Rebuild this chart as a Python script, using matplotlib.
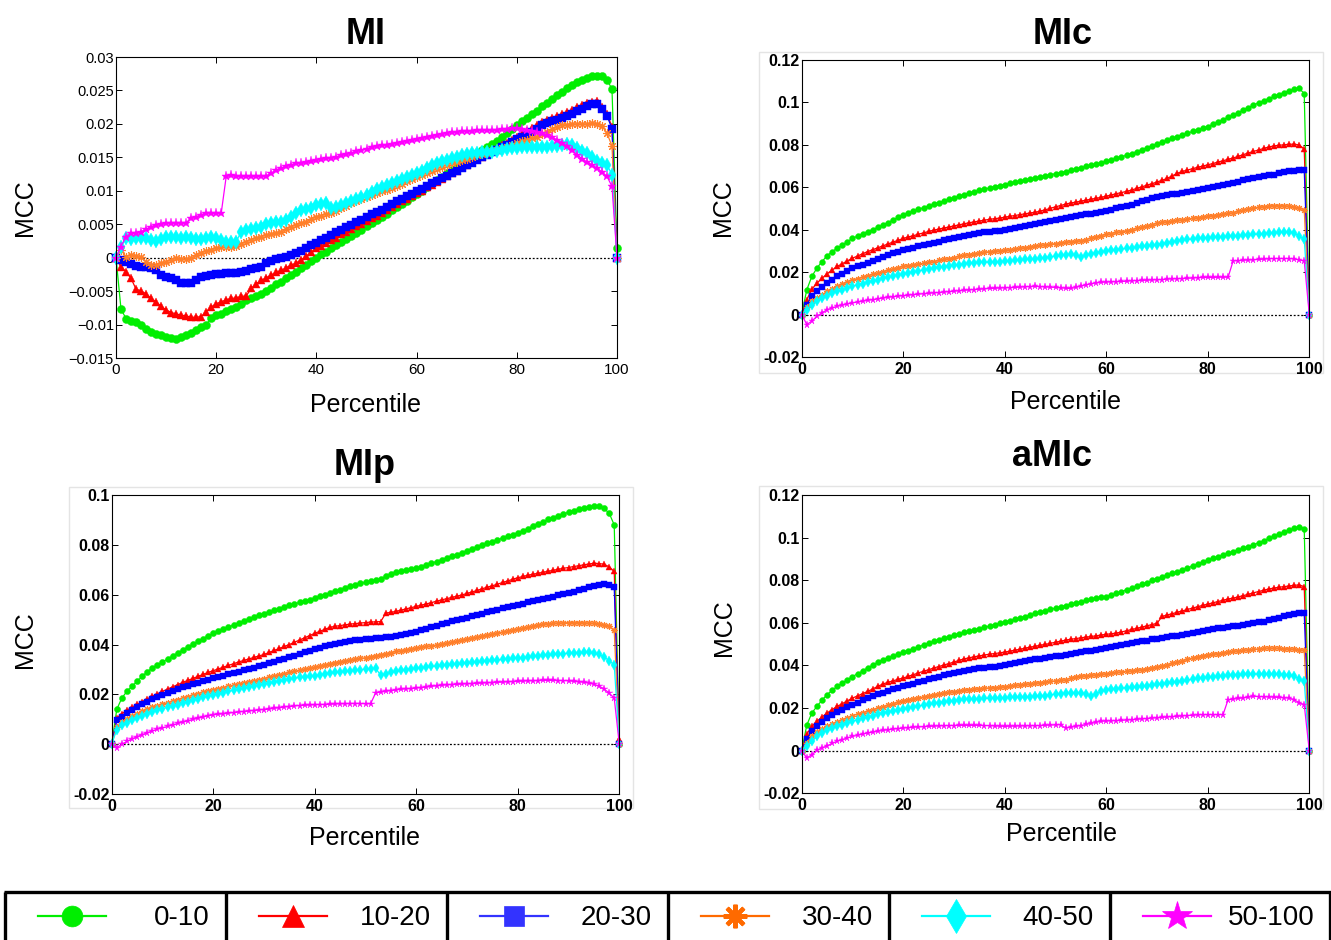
import numpy as np
import matplotlib
matplotlib.use("Agg")
import matplotlib.pyplot as plt
from matplotlib.patches import Rectangle

plt.rcParams['font.family'] = ['Liberation Sans', 'DejaVu Sans']

percentile = np.arange(0, 101)
groups = ['0-10', '10-20', '20-30', '30-40', '40-50', '50-100']

# ---------------- MI (values in units of 1e-4) ----------------
mi_0_10 = [0, -77, -91, -94, -96, -101, -106, -111, -114, -116,
           -119, -120, -121, -119, -116, -113, -108, -104, -101, -90,
           -86, -84, -80, -77, -74, -70, -64, -61, -57, -54,
           -50, -45, -40, -36, -31, -26, -21, -16, -11, -5,
           0, 5, 9, 14, 19, 23, 28, 32, 37, 42,
           47, 52, 57, 61, 66, 71, 76, 80, 85, 90,
           95, 100, 105, 111, 116, 121, 126, 131, 136, 141,
           146, 151, 156, 161, 165, 170, 175, 181, 186, 192,
           198, 204, 209, 215, 220, 226, 231, 237, 243, 248,
           253, 258, 262, 265, 268, 271, 272, 271, 266, 252,
           15]
mi_10_20 = [0, -14, -21, -31, -47, -50, -54, -61, -66, -73,
            -78, -82, -84, -86, -87, -89, -89, -88, -81, -74,
            -69, -66, -63, -61, -60, -58, -57, -46, -39, -34,
            -30, -26, -22, -19, -15, -11, -8, -3, 2, 8,
            14, 18, 22, 26, 30, 35, 39, 43, 47, 51,
            55, 59, 63, 67, 71, 76, 80, 84, 88, 92,
            96, 100, 105, 109, 113, 118, 122, 126, 130, 135,
            139, 143, 147, 151, 155, 160, 164, 168, 172, 176,
            180, 185, 190, 194, 199, 203, 206, 209, 212, 215,
            218, 221, 225, 228, 231, 233, 234, 225, 215, 196,
            0]
mi_20_30 = [0, -3.5, -6, -9.5, -12.5, -13.5, -13.5, -15, -18.5, -26,
            -29.5, -31, -33.5, -37.5, -38.5, -37.5, -33.5, -29.5, -27.5, -26,
            -24.5, -24.5, -23.5, -23.5, -22.5, -21, -19.5, -17.5, -15, -13.5,
            -8.5, -5, -2.5, -1, 0.5, 4, 6.5, 10.5, 14, 19,
            22.5, 26, 30, 34, 38, 42, 45.5, 49, 53, 57,
            61, 65, 68.5, 72, 76, 80, 84, 88, 91.5, 95,
            99, 103, 107, 111, 114.5, 118.5, 122.5, 126, 130, 134,
            138, 142, 146, 150, 153.5, 157.5, 161, 165, 169, 173,
            177, 180, 183, 188, 193, 198, 201, 204, 206, 209,
            212, 215, 219, 222, 226, 229, 229, 222, 212, 193,
            0]
mi_30_40 = [0, 11.5, 1.5, 4, 2.5, 0.5, -6, -11, -11, -8.5,
            -6, -3.5, -1, -2, -2, -1, 4, 6.5, 10.5, 11.5,
            14, 15.5, 16.5, 16.5, 17.5, 20.5, 24, 26.5, 29, 31.5,
            34, 35.5, 37.5, 39, 42.5, 46.5, 49, 51.5, 54, 57.5,
            61.5, 63, 65, 67, 70, 74, 77, 81, 84, 88,
            91, 93, 96, 99, 101, 104, 107, 110, 114, 118,
            121, 124, 127, 130, 133, 136, 139, 141, 143, 146,
            148, 150, 153, 155, 157, 159, 161, 164, 166, 169,
            171, 174, 176, 179, 181, 185, 188, 192, 195, 198,
            199, 200, 200, 200, 200, 201, 200, 197, 186, 167,
            0]
mi_40_50 = [0, 16.5, 29, 27.5, 29, 30, 29, 26.5, 25.5, 27.5,
            31.5, 31.5, 30.5, 29, 30.5, 29, 27.5, 27.5, 29, 30.5,
            29, 26.5, 24, 24, 24, 39, 41.5, 42.5, 44, 46.5,
            50, 52.5, 54, 54, 56.5, 61.5, 66.5, 71.5, 72.5, 74,
            78, 80, 82, 74, 76, 79, 82, 85, 88, 91,
            94, 98, 102, 105, 108, 111, 114, 117, 120, 123,
            126.5, 130, 134, 138, 141, 144, 146.5, 149, 151, 154,
            155, 156, 157, 157.5, 158, 158.5, 159, 160.5, 162, 163.5,
            164, 165, 165.5, 165.5, 165.5, 165.5, 165.5, 166.5, 167.5, 169,
            170.5, 168, 164, 160, 156, 151, 145, 141, 139, 124,
            0]
mi_50_100 = [0, 16.5, 31.5, 36.5, 37.5, 39, 42.5, 46.5, 49, 50.5,
             51.5, 52.5, 52.5, 52.5, 52.5, 59, 61.5, 64, 67.5, 67.5,
             66.5, 66.5, 121.5, 124, 122.5, 121.5, 121.5, 121.5, 121.5, 121.5,
             122.5, 126.5, 131.5, 134, 137.5, 139, 141.5, 141.5, 142.5, 144,
             146.5, 147.5, 148.5, 149.5, 151, 153, 155, 157, 159, 161,
             163, 165, 167, 168, 169, 170.5, 171.5, 173, 174.5, 176,
             177.5, 179, 180.5, 182.5, 184, 185.5, 186.5, 187.5, 188, 189,
             189.5, 190, 190.5, 191, 191, 191.5, 191.5, 192, 193, 193.5,
             194, 192.5, 191, 189.5, 188, 186.5, 183, 180, 176.5, 172,
             167, 161, 154, 148, 143, 139, 134, 128, 121.5, 106.5,
             0]

# ---------------- MIc (values in units of 1e-3) ----------------
mic_0_10 = [0, 11.7, 18, 21.9, 25, 27.7, 29.7, 31.3, 32.8, 34.4,
            35.9, 37, 38.1, 39.1, 40.1, 41.1, 42.2, 43.4, 44.6, 45.8,
            47, 47.9, 48.7, 49.6, 50.4, 51.2, 52, 52.8, 53.5, 54.3,
            55, 55.8, 56.5, 57.2, 57.9, 58.5, 59.1, 59.7, 60.3, 60.8,
            61.3, 61.8, 62.3, 62.8, 63.3, 63.9, 64.4, 64.9, 65.4, 65.9,
            66.4, 66.9, 67.4, 68, 68.6, 69.2, 69.8, 70.4, 71, 71.6,
            72.2, 72.9, 73.6, 74.4, 75.1, 75.9, 76.8, 77.7, 78.6, 79.5,
            80.4, 81.3, 82.1, 83, 83.8, 84.7, 85.5, 86.3, 87.1, 87.9,
            88.6, 89.7, 90.8, 91.9, 93, 94, 95.2, 96.4, 97.6, 98.8,
            99.8, 100.8, 101.8, 102.8, 103.7, 104.6, 105.5, 106.2, 106.6, 104.2,
            0]
mic_10_20 = [0, 7, 12, 14.8, 17.1, 19.2, 21, 22.7, 24, 25.3,
             26.6, 27.6, 28.7, 29.7, 30.6, 31.5, 32.4, 33.3, 34.2, 35,
             35.9, 36.6, 37.2, 37.9, 38.5, 39.2, 39.8, 40.3, 40.8, 41.3,
             41.8, 42.3, 42.8, 43.3, 43.7, 44.1, 44.5, 44.9, 45.2, 45.5,
             45.9, 46.3, 46.7, 47.1, 47.5, 47.9, 48.2, 48.8, 49.4, 50.1,
             50.8, 51.4, 52.1, 52.6, 53, 53.5, 53.9, 54.4, 54.8, 55.3,
             55.8, 56.4, 57, 57.5, 58.1, 58.7, 59.5, 60.2, 61, 61.7,
             62.5, 63.3, 64.2, 65.4, 66.6, 67.5, 68.1, 68.8, 69.4, 70,
             70.6, 71.2, 71.9, 72.5, 73.2, 73.8, 74.6, 75.4, 76.2, 76.9,
             77.6, 78.3, 79, 79.5, 79.8, 80, 80.3, 80.3, 80, 78,
             0]
mic_20_30 = [0, 4.7, 8.6, 10.9, 13, 14.8, 16.5, 18, 19.3, 20.6,
             21.9, 22.7, 23.5, 24.2, 25.2, 26.2, 27.2, 28, 28.8, 29.7,
             30.5, 31.1, 31.6, 32.2, 32.8, 33.3, 33.9, 34.4, 35, 35.5,
             36.1, 36.6, 37.2, 37.6, 38, 38.4, 38.7, 39, 39.2, 39.4,
             39.9, 40.4, 40.9, 41.3, 41.8, 42.3, 42.6, 43.1, 43.6, 44.1,
             44.6, 45.1, 45.5, 46, 46.4, 46.8, 47.2, 47.6, 48, 48.4,
             48.8, 49.4, 50, 50.6, 51.2, 51.8, 52.5, 53.3, 54.1, 54.9,
             55.6, 56, 56.3, 56.6, 56.9, 57.3, 57.8, 58.3, 58.8, 59.2,
             59.7, 60.2, 60.6, 61.1, 61.5, 62, 62.6, 63.2, 63.8, 64.4,
             64.8, 65.2, 65.6, 66, 66.5, 67, 67.5, 67.8, 68.1, 68.3,
             0]
mic_30_40 = [0, 3.6, 6.3, 7.8, 9.4, 10.9, 12.1, 13.3, 14.3, 15.4,
             16.4, 17, 17.7, 18.3, 18.9, 19.5, 20.2, 20.8, 21.4, 22.1,
             22.7, 23.1, 23.5, 23.8, 24.2, 24.6, 25, 25.5, 26, 26.4,
             26.9, 27.4, 27.9, 28.3, 28.7, 29, 29.4, 29.7, 29.9, 30.1,
             30.3, 30.6, 30.9, 31.2, 31.6, 32, 32.3, 32.6, 32.9, 33.2,
             33.5, 33.8, 34.1, 34.4, 34.6, 34.9, 35.2, 36.3, 36.7, 37.2,
             37.8, 38.2, 38.7, 39.1, 39.6, 40, 40.6, 41.2, 41.8, 42.4,
             43, 43.5, 43.8, 44.1, 44.4, 44.7, 45, 45.4, 45.7, 46.1,
             46.4, 46.7, 47, 47.4, 47.7, 48, 48.6, 49.2, 49.8, 50.3,
             50.6, 50.9, 51.2, 51.4, 51.4, 51.3, 51.1, 50.6, 50.1, 49.5,
             0]
mic_40_50 = [0, 2.3, 4.7, 6.3, 7.7, 8.9, 10, 10.9, 11.7, 12.5,
             13.3, 14, 14.6, 15.2, 15.8, 16.4, 17.1, 17.7, 18.2, 18.7,
             19.2, 19.7, 20.1, 20.6, 21, 21.5, 21.9, 22.3, 22.6, 23,
             23.3, 23.6, 24, 24.2, 24.4, 24.6, 24.7, 24.8, 24.9, 25,
             25.2, 25.4, 25.6, 25.8, 26, 26.1, 26.2, 26.5, 26.9, 27.2,
             27.6, 27.9, 28.3, 28.4, 28.2, 27.3, 28, 28.6, 29.1, 29.6,
             30, 30.3, 30.6, 30.9, 31.2, 31.5, 31.8, 32.1, 32.4, 32.7,
             33, 33.4, 33.9, 34.3, 34.8, 35.2, 35.4, 35.6, 35.9, 36.1,
             36.3, 36.4, 36.6, 36.7, 36.9, 37, 37.2, 37.4, 37.6, 37.8,
             38, 38.2, 38.4, 38.6, 38.7, 38.8, 38.9, 38.5, 37, 35.5,
             0]
mic_50_100 = [0, -4.7, -3.1, -0.8, 0.8, 2.3, 3.1, 3.9, 4.4, 5,
              5.5, 5.9, 6.3, 6.7, 7, 7.4, 7.8, 8.1, 8.4, 8.7,
              8.9, 9.1, 9.4, 9.6, 9.8, 10, 10.2, 10.4, 10.6, 10.8,
              11, 11.2, 11.4, 11.6, 11.8, 11.9, 12.1, 12.3, 12.4, 12.5,
              12.6, 12.7, 12.8, 12.9, 13.1, 13.2, 13.3, 13.2, 13, 12.9,
              12.8, 12.6, 12.4, 12.3, 12.8, 13.4, 14, 14.5, 14.9, 15.2,
              15.3, 15.4, 15.5, 15.6, 15.7, 15.9, 16, 16.1, 16.2, 16.3,
              16.4, 16.5, 16.7, 16.8, 16.9, 17, 17.1, 17.2, 17.4, 17.5,
              17.5, 17.5, 17.6, 17.6, 17.6, 25.3, 25.4, 25.6, 25.7, 25.8,
              26, 26.1, 26.3, 26.4, 26.4, 26.4, 26.4, 26.2, 25.8, 25.3,
              0]

# ---------------- MIp (values in units of 1e-3) ----------------
mip_0_10 = [0, 14, 18.5, 21.2, 23.2, 25.2, 27.2, 29, 30.6, 31.9,
            33, 34.2, 35.4, 36.6, 37.8, 39, 40.2, 41.3, 42.4, 43.5,
            44.5, 45.3, 46.1, 47, 47.8, 48.6, 49.4, 50.2, 50.9, 51.7,
            52.4, 53.1, 53.7, 54.4, 55.1, 55.7, 56.3, 56.9, 57.5, 58,
            58.6, 59.3, 60, 60.7, 61.3, 62, 62.7, 63.3, 64, 64.5,
            65, 65.5, 65.8, 66.3, 67.5, 68.2, 68.9, 69.4, 69.8, 70.2,
            70.6, 71.2, 71.9, 72.6, 73.3, 74, 74.7, 75.4, 76.1, 76.8,
            77.5, 78.2, 79, 79.8, 80.6, 81.3, 82, 82.7, 83.4, 84.1,
            84.7, 85.6, 86.5, 87.5, 88.4, 89.3, 90.2, 90.9, 91.7, 92.4,
            93.1, 93.7, 94.3, 94.9, 95.3, 95.4, 95.4, 94.6, 92.7, 88,
            0]
mip_10_20 = [0, 10.5, 12.3, 13.6, 14.9, 16, 17.1, 18.2, 19.2, 20.2,
             21.2, 22.1, 23, 23.9, 24.8, 25.6, 26.4, 27.2, 28, 28.8,
             29.5, 30.2, 30.9, 31.6, 32.3, 33, 33.6, 34.2, 34.8, 35.4,
             36, 36.8, 37.6, 38.4, 39.2, 40, 40.9, 41.8, 42.7, 43.6,
             44.5, 45.3, 46.1, 46.9, 47.3, 47.6, 47.9, 48.2, 48.4, 48.6,
             48.8, 49, 49.1, 49.2, 52.6, 52.9, 53.3, 53.8, 54.3, 54.8,
             55.3, 55.8, 56.3, 56.8, 57.4, 57.9, 58.4, 58.9, 59.4, 59.9,
             60.5, 61.1, 61.7, 62.4, 63, 63.6, 64.2, 64.9, 65.5, 66.2,
             66.8, 67.3, 67.8, 68.2, 68.6, 69, 69.4, 69.8, 70.2, 70.6,
             70.9, 71.3, 71.6, 72, 72.3, 72.6, 72.5, 72.2, 71.2, 69.3,
             2]
mip_20_30 = [0, 9.5, 11.1, 12.4, 13.6, 14.8, 16, 17.1, 18.1, 19.1,
             19.9, 20.7, 21.5, 22.2, 22.8, 23.5, 24.1, 24.7, 25.3, 25.9,
             26.5, 27, 27.5, 28, 28.6, 29.1, 29.7, 30.2, 30.7, 31.2,
             31.8, 32.4, 33, 33.6, 34.2, 34.8, 35.4, 36.1, 36.8, 37.5,
             38.1, 38.7, 39.3, 39.9, 40.4, 40.8, 41.2, 41.5, 41.8, 42,
             42.2, 42.3, 42.5, 42.7, 42.9, 43.1, 43.4, 43.8, 44.3, 44.7,
             45.2, 45.8, 46.4, 47, 47.6, 48.3, 48.8, 49.3, 49.8, 50.3,
             50.8, 51.3, 51.8, 52.3, 52.9, 53.5, 54, 54.5, 55, 55.5,
             55.9, 56.4, 56.9, 57.4, 57.9, 58.4, 58.8, 59.2, 59.7, 60.1,
             60.6, 61.2, 61.8, 62.4, 63, 63.5, 64, 64.4, 64, 63,
             0]
mip_30_40 = [0, 7, 8.9, 10.1, 11.3, 12.3, 13.2, 14, 14.8, 15.5,
             16.1, 16.7, 17.3, 17.9, 18.5, 19.1, 19.7, 20.3, 20.9, 21.4,
             21.8, 22.3, 22.7, 23.2, 23.6, 24.1, 24.5, 25, 25.4, 25.8,
             26.3, 26.8, 27.3, 27.8, 28.3, 28.8, 29.2, 29.6, 30, 30.4,
             30.8, 31.3, 31.8, 32.3, 32.7, 33.1, 33.4, 33.8, 34.1, 34.4,
             34.7, 35.1, 35.5, 35.9, 36.3, 36.7, 37.2, 37.5, 37.9, 38.2,
             38.5, 38.8, 39.2, 39.5, 39.8, 40.2, 40.5, 40.9, 41.3, 41.8,
             42.2, 42.6, 43, 43.4, 43.8, 44.2, 44.6, 45, 45.4, 45.8,
             46.1, 46.5, 46.9, 47.4, 47.8, 48.2, 48.4, 48.5, 48.6, 48.7,
             48.8, 48.8, 48.8, 48.7, 48.6, 48.5, 48.3, 48, 47.3, 45.7,
             0]
mip_40_50 = [0, 5.8, 7.5, 8.6, 9.6, 10.4, 11.4, 12.3, 13, 13.6,
             14.2, 14.8, 15.4, 15.9, 16.5, 17.1, 17.7, 18.3, 18.8, 19.3,
             19.8, 20.3, 20.7, 21.2, 21.6, 22, 22.4, 22.9, 23.3, 23.7,
             24.1, 24.5, 24.9, 25.3, 25.7, 26.1, 26.5, 26.8, 27, 27.2,
             27.4, 27.8, 28.2, 28.6, 28.8, 29, 29.2, 29.4, 29.6, 29.9,
             30.1, 30.3, 30.5, 27.6, 28.3, 28.8, 29.2, 29.6, 29.9, 30.2,
             30.5, 30.7, 30.9, 31.2, 31.4, 31.6, 31.8, 32, 32.2, 32.4,
             32.6, 32.8, 33, 33.2, 33.4, 33.6, 33.8, 34, 34.2, 34.4,
             34.5, 34.7, 35, 35.2, 35.5, 35.7, 35.9, 36, 36.2, 36.3,
             36.5, 36.6, 36.7, 36.8, 36.8, 36.5, 36, 35, 33.5, 31.8,
             0]
mip_50_100 = [0, -1.4, 0, 1.1, 2.1, 3, 3.8, 4.6, 5.3, 6,
              6.5, 7.1, 7.7, 8.3, 8.8, 9.4, 9.9, 10.4, 10.9, 11.4,
              11.8, 12, 12.2, 12.4, 12.7, 12.9, 13.1, 13.3, 13.5, 13.7,
              13.9, 14.1, 14.4, 14.6, 14.9, 15.1, 15.3, 15.5, 15.6, 15.7,
              15.8, 15.9, 15.9, 16, 16.1, 16.2, 16.2, 16.3, 16.3, 16.3,
              16.2, 16.2, 20.6, 20.9, 21.2, 21.5, 21.8, 22, 22.2, 22.3,
              22.5, 22.7, 22.9, 23.2, 23.4, 23.6, 23.8, 23.9, 24, 24.1,
              24.2, 24.3, 24.4, 24.5, 24.6, 24.7, 24.8, 24.9, 25, 25.1,
              25.2, 25.3, 25.4, 25.4, 25.5, 25.6, 25.6, 25.6, 25.5, 25.5,
              25.4, 25.2, 25, 24.8, 24.5, 24, 23.3, 22.2, 20.5, 18.5,
              0]

# ---------------- aMIc (values in units of 1e-3) ----------------
amic_0_10 = [0, 12, 17.7, 20.8, 23.7, 26.3, 28.3, 30.2, 31.8, 33.3,
             34.8, 36.1, 37.4, 38.9, 40.2, 41.5, 42.7, 43.5, 44.4, 45.2,
             46.1, 47, 47.8, 48.7, 49.6, 50.4, 51.3, 52, 52.7, 53.4,
             54.1, 54.8, 55.5, 56.1, 56.7, 57.3, 57.9, 58.5, 59.1, 59.7,
             60.4, 61, 61.6, 62.3, 62.9, 63.6, 64.5, 65.1, 65.7, 66.3,
             66.9, 67.5, 68.1, 68.7, 69.3, 69.9, 70.5, 71.1, 71.6, 72,
             72.3, 73, 73.8, 74.7, 75.5, 76.3, 77.1, 78, 78.9, 79.9,
             80.8, 81.6, 82.4, 83.2, 84, 84.8, 85.7, 86.7, 87.6, 88.5,
             89.5, 90.3, 91, 91.8, 92.6, 93.4, 94.2, 95, 95.8, 96.6,
             97.6, 98.6, 99.6, 100.6, 101.5, 102.5, 103.4, 104.3, 105.2, 104.2,
             0]
amic_10_20 = [0, 7.8, 11.4, 13.8, 15.8, 17.7, 19.3, 20.8, 22.1, 23.4,
              24.7, 25.7, 26.8, 27.8, 29, 30.2, 31.3, 32.1, 32.8, 33.5,
              34.1, 34.9, 35.7, 36.5, 37.3, 38, 38.8, 39.5, 40.2, 40.9,
              41.6, 42.4, 43.1, 43.6, 44.1, 44.5, 44.9, 45.3, 45.6, 45.9,
              46.3, 46.7, 47.2, 47.6, 48.1, 48.6, 49, 49.5, 49.9, 50.4,
              50.9, 51.4, 51.9, 52.3, 52.6, 53, 53.3, 53.6, 53.9, 54.3,
              54.6, 54.9, 55.2, 55.7, 56.3, 56.9, 57.4, 58, 58.6, 59.2,
              59.8, 63, 63.7, 64.3, 65, 65.6, 66.3, 66.9, 67.6, 68.2,
              68.8, 69.4, 70, 70.6, 71.2, 71.6, 72.2, 72.8, 73.4, 74.1,
              74.7, 75.3, 75.9, 76.3, 76.7, 77, 77.3, 77.6, 77.8, 77,
              0]
amic_20_30 = [0, 5.5, 9.1, 11.4, 13.5, 15.3, 16.7, 18, 19.2, 20.4,
              21.6, 22.6, 23.6, 24.7, 25.5, 26.4, 27.3, 28, 28.8, 29.5,
              30.2, 30.9, 31.5, 32.2, 32.8, 33.5, 34.1, 34.7, 35.3, 35.8,
              36.4, 37, 37.6, 38, 38.3, 38.6, 38.9, 39.2, 39.4, 39.6,
              40, 40.5, 41, 41.5, 42, 42.5, 42.8, 43.2, 43.5, 43.9,
              44.3, 44.6, 45, 45.4, 45.8, 46.2, 46.6, 47, 47.4, 47.8,
              48.1, 48.6, 49, 49.5, 49.9, 50.4, 50.8, 51.3, 51.7, 52.2,
              52.6, 52.9, 53.3, 53.7, 54, 54.4, 54.9, 55.4, 55.9, 56.3,
              56.7, 57.1, 57.4, 57.7, 58, 58.3, 58.7, 59, 59.4, 59.8,
              60.2, 60.6, 61.2, 61.8, 62.4, 63, 63.6, 64.2, 64.8, 64.5,
              0]
amic_30_40 = [0, 3.8, 6.7, 8.6, 10.1, 11.4, 12.6, 13.6, 14.6, 15.5,
              16.4, 17.1, 17.8, 18.5, 19.2, 19.9, 20.6, 21.3, 22, 22.7,
              23.4, 23.9, 24.4, 24.8, 25.3, 25.7, 26.2, 26.6, 27, 27.4,
              27.7, 28.1, 28.5, 28.7, 28.9, 29.1, 29.3, 29.5, 29.6, 29.8,
              30.1, 30.3, 30.6, 30.9, 31.1, 31.4, 31.7, 32, 32.2, 32.5,
              32.8, 33, 33.3, 34, 34.8, 35, 35.2, 35.4, 35.6, 35.9,
              36.1, 36.4, 36.7, 37, 37.3, 37.5, 37.8, 38, 38.5, 38.9,
              39.4, 39.8, 40.3, 41, 41.6, 42.2, 42.9, 43.5, 44.2, 44.6,
              45, 45.3, 45.6, 45.9, 46.3, 46.6, 46.9, 47.1, 47.3, 47.6,
              47.8, 48, 48.1, 48.1, 48, 47.9, 47.8, 47.6, 47.4, 47.2,
              0]
amic_40_50 = [0, 2.2, 4.4, 6.7, 8.2, 9.5, 10.5, 11.4, 12.2, 13,
              13.8, 14.5, 15.2, 15.8, 16.4, 17.1, 17.7, 18.2, 18.6, 19.1,
              19.5, 20, 20.5, 20.9, 21.4, 21.8, 22.3, 22.6, 22.9, 23.2,
              23.5, 23.8, 24.1, 24.2, 24.3, 24.4, 24.5, 24.6, 24.7, 24.8,
              24.9, 25, 25.1, 25.2, 25.3, 25.4, 25.5, 25.7, 25.9, 26.2,
              26.5, 26.8, 27, 27.1, 27.2, 27.3, 26.5, 25.8, 26.8, 27.8,
              28.6, 28.8, 29.1, 29.3, 29.6, 29.8, 30, 30.2, 30.5, 30.8,
              31.1, 31.4, 31.7, 32.1, 32.4, 32.8, 33.2, 33.5, 34, 34.3,
              34.5, 34.7, 34.9, 35.1, 35.3, 35.6, 35.7, 35.8, 35.9, 36,
              36, 36.1, 36, 35.9, 35.8, 35.7, 35.6, 35, 33.8, 32.5,
              0]
amic_50_100 = [0, -3.4, -1.9, 0.2, 1.3, 2.3, 3.4, 4.4, 5.2, 6,
               6.7, 7.2, 7.8, 8.3, 8.7, 9.1, 9.5, 9.8, 10.1, 10.4,
               10.6, 10.8, 11, 11.1, 11.3, 11.4, 11.5, 11.6, 11.7, 11.8,
               11.8, 11.9, 11.9, 11.9, 11.9, 11.9, 11.8, 11.7, 11.6, 11.5,
               11.4, 11.5, 11.5, 11.6, 11.6, 11.7, 11.7, 11.8, 11.9, 12,
               12.1, 12.2, 10.6, 11, 11.4, 11.8, 12.3, 12.8, 13.3, 13.8,
               13.9, 14, 14.1, 14.2, 14.4, 14.5, 14.7, 14.9, 15.1, 15.3,
               15.4, 15.6, 15.8, 16, 16.1, 16.3, 16.5, 16.6, 16.8, 16.9,
               16.9, 16.9, 16.9, 16.9, 23.9, 24.2, 24.5, 24.8, 25.1, 25.5,
               25.4, 25.3, 25.2, 25.1, 25, 24.8, 24.7, 24, 22.5, 21.6,
               0]

# ---------------- styling ----------------
colors = ['#00ee00', '#ff0000', '#0000ff', '#ff7f2a', '#00ffff', '#ff00ff']
legend_colors = ['#00ee00', '#ff0000', '#3333ff', '#ff6a00', '#00ffff', '#ff00ff']
markers = ['o', '^', 's', (8, 2, 0), 'd', '*']

W, H = 1331, 940
fig = plt.figure(figsize=(W / 100, H / 100), dpi=100)
fig.patch.set_facecolor('white')


def fx(x):
    return x / W


def fy(y):
    return 1 - y / H


panels = [
    dict(title='MI', scale=1e-4, series=[mi_0_10, mi_10_20, mi_20_30, mi_30_40, mi_40_50, mi_50_100],
         box=(116, 57, 617, 358), ylim=(-0.015, 0.03), ystep=0.005, bold=False,
         title_xy=(366, 43.5), ylab_xy=(25, 208), xlab_xy=(365, 412), frame=None, ms=5.8),
    dict(title='MIc', scale=1e-3, series=[mic_0_10, mic_10_20, mic_20_30, mic_30_40, mic_40_50, mic_50_100],
         box=(801.7, 60, 1309.3, 357), ylim=(-0.02, 0.12), ystep=0.02, bold=True,
         title_xy=(1063, 44), ylab_xy=(723, 208), xlab_xy=(1065, 409), frame=(759, 52, 1323, 373), ms=4.2),
    dict(title='MIp', scale=1e-3, series=[mip_0_10, mip_10_20, mip_20_30, mip_30_40, mip_40_50, mip_50_100],
         box=(111.7, 495, 619.3, 794), ylim=(-0.02, 0.1), ystep=0.02, bold=True,
         title_xy=(365, 475), ylab_xy=(25, 640), xlab_xy=(364.5, 845), frame=(69, 487, 633, 808), ms=4.4),
    dict(title='aMIc', scale=1e-3, series=[amic_0_10, amic_10_20, amic_20_30, amic_30_40, amic_40_50, amic_50_100],
         box=(801.7, 495, 1309.3, 793.3), ylim=(-0.02, 0.12), ystep=0.02, bold=True,
         title_xy=(1052, 466), ylab_xy=(724, 628), xlab_xy=(1061.5, 841), frame=(759, 486, 1323, 809), ms=4.2),
]

for p in panels:
    l, t, r, b = p['box']
    if p['frame'] is not None:
        fl, ft, fr, fb = p['frame']
        fig.add_artist(Rectangle((fx(fl), fy(fb)), fx(fr - fl), (fb - ft) / H,
                                 transform=fig.transFigure, fill=False,
                                 edgecolor='#e4e4e4', linewidth=1.0, zorder=0))
    ax = fig.add_axes([fx(l), fy(b), (r - l) / W, (b - t) / H])
    ax.plot([0, 100], [0, 0], color='black', linestyle=(0, (1.5, 1.5)), linewidth=0.9, zorder=1)
    for vals, col, mk in zip(p['series'], colors, markers):
        y = np.asarray(vals, dtype=float) * p['scale']
        is_ast = isinstance(mk, tuple)
        ax.plot(percentile, y, color=col, linewidth=0.9, marker=mk,
                markersize=p['ms'] + (0.5 if is_ast else 0) + (1.0 if mk == 'd' else 0) + (1.0 if mk == '*' else 0),
                markeredgewidth=0.8 if is_ast else 0.3,
                markerfacecolor=col, markeredgecolor=col, clip_on=False, zorder=2)
    ax.set_xlim(0, 100)
    ax.set_ylim(*p['ylim'])
    weight = 'bold' if p['bold'] else 'normal'
    xt = np.arange(0, 101, 20)
    ax.set_xticks(xt)
    ax.set_xticklabels([str(v) for v in xt], fontsize=11 if not p['bold'] else 11.5, fontweight=weight)
    yt = np.round(np.arange(p['ylim'][0], p['ylim'][1] + p['ystep'] / 2, p['ystep']), 4) + 0.0
    ylabels = ['%g' % v for v in yt]
    if not p['bold']:
        ylabels = [s.replace('-', '\u2212') for s in ylabels]
    ax.set_yticks(yt)
    ax.set_yticklabels(ylabels, fontsize=10.5 if not p['bold'] else 11.5, fontweight=weight)
    ax.tick_params(direction='in', top=True, right=True, length=4, width=0.7)
    ax.tick_params(axis='x', pad=3.5)
    ax.tick_params(axis='y', pad=1.5)
    for s in ax.spines.values():
        s.set_linewidth(0.8)
    fig.text(fx(p['title_xy'][0]), fy(p['title_xy'][1]), p['title'], fontsize=26,
             fontweight='bold', ha='center', va='baseline')
    fig.text(fx(p['ylab_xy'][0]), fy(p['ylab_xy'][1]), 'MCC', fontsize=18,
             rotation=90, ha='center', va='center')
    fig.text(fx(p['xlab_xy'][0]), fy(p['xlab_xy'][1]), 'Percentile', fontsize=18,
             ha='center', va='baseline')

# ---------------- legend strip ----------------
lg = fig.add_axes([0, 0, 1, 1])
lg.set_xlim(0, W)
lg.set_ylim(H, 0)
lg.axis('off')
lg.patch.set_alpha(0)

left_edge, right_edge, top_edge = 5, 1331, 892
cell_w = (right_edge - left_edge) / len(groups)
lw_border = 2.4
lg.plot([left_edge - 1.5, right_edge], [top_edge, top_edge], color='black', linewidth=lw_border,
        solid_capstyle='butt')
for i in range(len(groups) + 1):
    xe = left_edge + i * cell_w
    if i == len(groups):
        xe = right_edge - 1.2
    lg.plot([xe, xe], [top_edge, H + 2], color='black', linewidth=lw_border, solid_capstyle='butt')

legend_ms = [15, 16, 14, 17, 17, 22]
legend_mew = [0.5, 0.5, 0.5, 3.0, 0.5, 0.5]
for i, (name, col, mk) in enumerate(zip(groups, legend_colors, markers)):
    cl = left_edge + i * cell_w
    x0, x1 = cl + 33, cl + 101
    yline = 916
    lg.plot([x0, x1], [yline, yline], color=col, linewidth=1.6)
    lg.plot([(x0 + x1) / 2], [yline], marker=mk, color=col, markersize=legend_ms[i],
            markeredgewidth=legend_mew[i], markerfacecolor=col, markeredgecolor=col)
    lg.text(cl + cell_w - 16, 918, name, fontsize=20, ha='right', va='center')

fig.savefig('out.png', dpi=100, facecolor='white')
